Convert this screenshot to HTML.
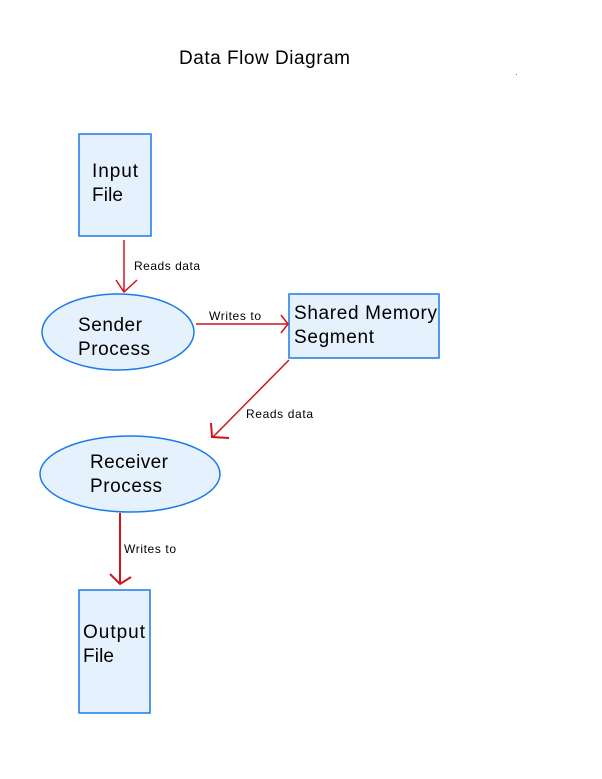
<!DOCTYPE html>
<html><head><meta charset="utf-8"><style>
html,body{margin:0;padding:0;background:#fff;}
svg{display:block;}
text{font-family:"Liberation Sans",sans-serif;fill:#000;}
</style></head><body>
<svg width="602" height="779" viewBox="0 0 602 779" xmlns="http://www.w3.org/2000/svg">
<text x="179" y="64" font-size="19" textLength="171">Data Flow Diagram</text>
<rect x="516" y="74" width="1" height="1" fill="#4a7fd0"/>
<g fill="#e6f1fe" stroke="#1a7ae8" stroke-width="1.5">
<rect x="79" y="134" width="72" height="102"/>
<ellipse cx="118" cy="332" rx="76" ry="38"/>
<rect x="289" y="294" width="150" height="64"/>
<ellipse cx="130" cy="474" rx="90" ry="38"/>
<rect x="79" y="590" width="71" height="123"/>
</g>
<g font-size="19">
<text x="92" y="177" textLength="46">Input</text><text x="92" y="201" textLength="31">File</text>
<text x="78" y="331" textLength="64">Sender</text><text x="78" y="355" textLength="72">Process</text>
<text x="294" y="319" textLength="143">Shared Memory</text><text x="294" y="343" textLength="80">Segment</text>
<text x="90" y="468" textLength="78">Receiver</text><text x="90" y="492" textLength="72">Process</text>
<text x="83" y="638" textLength="62">Output</text><text x="83" y="662" textLength="31">File</text>
</g>
<g font-size="12">
<text x="134" y="270" textLength="66">Reads data</text>
<text x="209" y="320" textLength="52">Writes to</text>
<text x="246" y="418" textLength="67">Reads data</text>
<text x="124" y="553" textLength="52">Writes to</text>
</g>
<g stroke="#d0141c" fill="none" stroke-width="1.5">
<line x1="124" y1="240" x2="124" y2="292"/>
<polyline points="116,280 124,292 137,280"/>
<line x1="196" y1="324" x2="288" y2="324"/>
<polyline points="281,315 288,324 281,333"/>
<line x1="289" y1="360" x2="213" y2="437"/>
<polyline points="211,423 212,437 229,438" stroke-width="2"/>
<line x1="120" y1="513" x2="120" y2="583" stroke-width="2"/>
<polyline points="110,574 120,584 131,577" stroke-width="2"/>
</g>
</svg>
</body></html>
